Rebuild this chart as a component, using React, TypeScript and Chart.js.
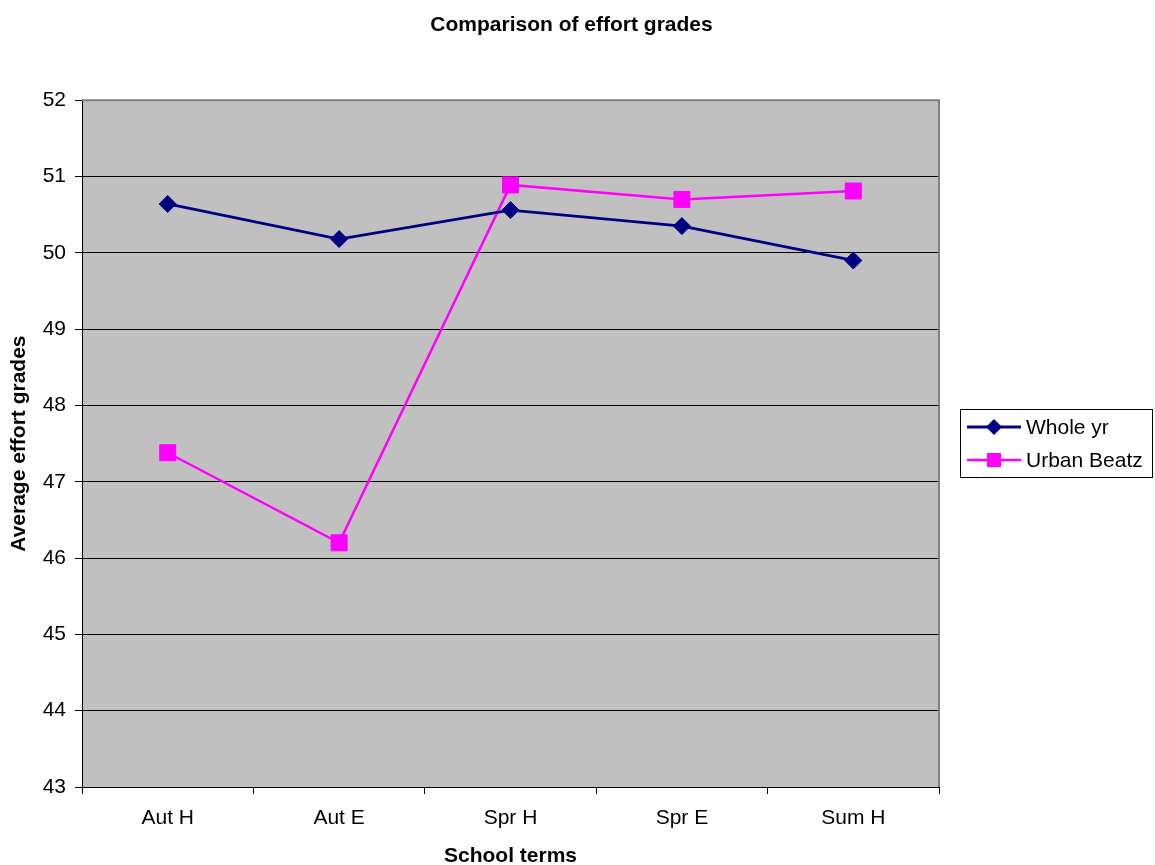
import React, { useEffect, useRef } from "react";
import { Chart, registerables } from "chart.js";

Chart.register(...registerables);

const categories = ["Aut H", "Aut E", "Spr H", "Spr E", "Sum H"];
const wholeYr = [50.64, 50.18, 50.56, 50.35, 49.9];
const urbanBeatz = [47.38, 46.2, 50.89, 50.7, 50.81];
const seriesNames = ["Whole yr", "Urban Beatz"];
const yMin = 43;
const yMax = 52;
const yStep = 1;

const FONT = '"Liberation Sans", Arial, Helvetica, sans-serif';

const plotFrame = {
  id: "plotFrame",
  beforeDraw(chart: any) {
    const { ctx, chartArea: a } = chart;
    ctx.save();
    ctx.fillStyle = "#ffffff";
    ctx.fillRect(0, 0, chart.width, chart.height);
    ctx.fillStyle = "#C0C0C0";
    ctx.fillRect(a.left, a.top, a.right - a.left, a.bottom - a.top);
    ctx.restore();
  },
  beforeDatasetsDraw(chart: any) {
    const { ctx, chartArea: a } = chart;
    ctx.save();
    ctx.strokeStyle = "#808080";
    ctx.lineWidth = 2;
    ctx.beginPath();
    ctx.moveTo(a.left, a.top);
    ctx.lineTo(a.right, a.top);
    ctx.lineTo(a.right, a.bottom);
    ctx.stroke();
    ctx.restore();
  },
};

const boxLegend = {
  id: "boxLegend",
  afterDraw(chart: any) {
    const { ctx } = chart;
    ctx.save();
    ctx.strokeStyle = "#000000";
    ctx.lineWidth = 1;
    ctx.strokeRect(960.5, 409.5, 192, 68);
    chart.data.datasets.forEach((ds: any, i: number) => {
      const y = 427 + i * 33;
      ctx.strokeStyle = ds.borderColor;
      ctx.lineWidth = ds.borderWidth;
      ctx.beginPath();
      ctx.moveTo(967, y);
      ctx.lineTo(1021, y);
      ctx.stroke();
      ctx.fillStyle = ds.pointBackgroundColor;
      ctx.beginPath();
      if (ds.pointStyle === "rectRot") {
        const r = 8;
        ctx.moveTo(994 - r, y);
        ctx.lineTo(994, y - r);
        ctx.lineTo(994 + r, y);
        ctx.lineTo(994, y + r);
        ctx.closePath();
      } else {
        const s = 7;
        ctx.rect(994 - s, y - s, 2 * s, 2 * s);
      }
      ctx.fill();
      ctx.fillStyle = "#000000";
      ctx.font = `21px ${FONT}`;
      ctx.textBaseline = "middle";
      ctx.textAlign = "left";
      ctx.fillText(ds.label, 1026, y + 1);
    });
    ctx.restore();
  },
};

export default function App() {
  const ref = useRef<HTMLCanvasElement | null>(null);

  useEffect(() => {
    document.body.style.margin = "0";
    if (!ref.current) return;
    const chart = new Chart(ref.current, {
      type: "line",
      data: {
        labels: categories,
        datasets: [
          {
            label: seriesNames[0],
            data: wholeYr,
            borderColor: "#000080",
            backgroundColor: "#000080",
            pointBackgroundColor: "#000080",
            pointBorderColor: "#000080",
            borderWidth: 2.8,
            pointStyle: "rectRot",
            pointRadius: 8.5,
            pointBorderWidth: 1,
            tension: 0,
            yAxisID: "y",
          },
          {
            label: seriesNames[1],
            data: urbanBeatz,
            borderColor: "#FF00FF",
            backgroundColor: "#FF00FF",
            pointBackgroundColor: "#FF00FF",
            pointBorderColor: "#FF00FF",
            borderWidth: 2.5,
            pointStyle: "rect",
            pointRadius: 11.3,
            pointBorderWidth: 1,
            tension: 0,
            yAxisID: "y",
          },
        ],
      },
      options: {
        responsive: false,
        animation: false,
        devicePixelRatio: 1,
        layout: { padding: { left: 0, right: 12, top: 0, bottom: 0 } },
        plugins: {
          legend: { display: false },
          tooltip: { enabled: false },
          title: {
            display: true,
            text: "Comparison of effort grades",
            color: "#000000",
            font: { family: FONT, size: 21, weight: "bold", lineHeight: 1.2 },
            padding: { top: 13, bottom: 62 },
          },
        },
        scales: {
          x: {
            type: "category",
            offset: true,
            grid: {
              offset: true,
              drawOnChartArea: false,
              drawTicks: true,
              tickLength: 7,
              color: "#000000",
            },
            border: { color: "#000000", width: 1 },
            ticks: {
              color: "#000000",
              font: { family: FONT, size: 21 },
              padding: 12,
              maxRotation: 0,
            },
            title: {
              display: true,
              text: "School terms",
              color: "#000000",
              font: { family: FONT, size: 21, weight: "bold", lineHeight: 0.8 },
              padding: 0,
            },
            afterFit: (s: any) => {
              s.height = 78;
            },
          },
          y: {
            min: yMin,
            max: yMax,
            grid: {
              color: "#000000",
              lineWidth: 1,
              drawTicks: true,
              tickLength: 7,
            },
            border: { color: "#000000", width: 1 },
            ticks: {
              stepSize: yStep,
              color: "#000000",
              font: { family: FONT, size: 21 },
              padding: 9,
            },
            title: {
              display: true,
              text: "Average effort grades",
              color: "#000000",
              font: { family: FONT, size: 21, weight: "bold", lineHeight: 1 },
              padding: { top: 9, bottom: 0 },
            },
            afterFit: (s: any) => {
              s.width = 82;
            },
          },
          legendSpace: {
            type: "linear",
            position: "right",
            display: true,
            grid: { display: false, drawTicks: false },
            border: { display: false },
            ticks: { display: false },
            title: { display: false },
            afterFit: (s: any) => {
              s.width = 204;
            },
          },
        },
      },
      plugins: [plotFrame, boxLegend],
    });
    return () => chart.destroy();
  }, []);

  return (
    <canvas
      ref={ref}
      width={1155}
      height={865}
      style={{ display: "block", width: 1155, height: 865 }}
    />
  );
}
